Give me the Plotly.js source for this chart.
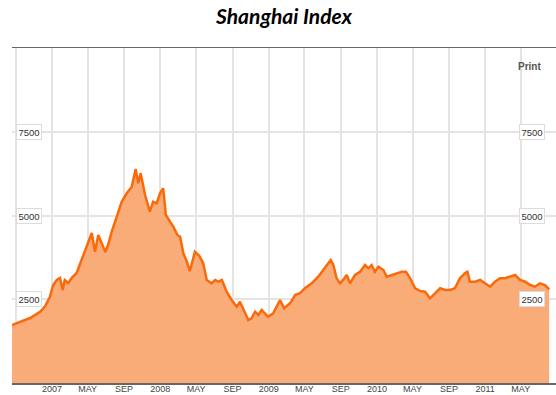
<!DOCTYPE html>
<html>
<head>
<meta charset="utf-8">
<script src="https://cdn.plot.ly/plotly-3.0.1.min.js"></script>
<style>html,body{margin:0;padding:0;background:#fff;}#chart{width:556px;height:395px;}</style>
</head>
<body>
<div id="chart"></div>
<script>
// Shanghai Composite Index
const dates = [
'2006-08-19','2006-09-15','2006-10-19','2006-11-22','2006-12-09','2006-12-25',
'2007-01-05','2007-01-17','2007-01-28','2007-02-06','2007-02-13','2007-02-25',
'2007-03-08','2007-03-25','2007-04-11','2007-04-28','2007-05-15','2007-05-26',
'2007-06-06','2007-06-17','2007-06-30','2007-07-10','2007-07-21','2007-08-06',
'2007-08-24','2007-09-10','2007-09-27','2007-10-10','2007-10-19','2007-10-27',
'2007-11-11','2007-11-27','2007-12-08','2007-12-20','2007-12-31','2008-01-11',
'2008-01-20','2008-02-03','2008-02-14','2008-02-28','2008-03-08','2008-03-19',
'2008-03-30','2008-04-10','2008-04-27','2008-05-11','2008-05-25','2008-06-06',
'2008-06-22','2008-07-04','2008-07-15','2008-07-27','2008-08-12','2008-08-29',
'2008-09-15','2008-09-26','2008-10-13','2008-10-24','2008-11-04','2008-11-16',
'2008-11-27','2008-12-08','2008-12-19','2008-12-30','2009-01-16','2009-01-28',
'2009-02-08','2009-02-22','2009-03-14','2009-03-31','2009-04-16','2009-05-03',
'2009-05-26','2009-06-17','2009-07-04','2009-07-21','2009-07-29','2009-08-07',
'2009-08-18','2009-08-29','2009-09-09','2009-09-21','2009-10-02','2009-10-19',
'2009-11-05','2009-11-22','2009-12-03','2009-12-14','2009-12-25','2010-01-06',
'2010-01-23','2010-02-03','2010-02-20','2010-03-09','2010-03-26','2010-04-09',
'2010-04-23','2010-05-10','2010-05-26','2010-06-12','2010-06-29','2010-07-16',
'2010-08-02','2010-08-19','2010-09-05','2010-09-21','2010-10-08','2010-10-25',
'2010-11-02','2010-11-11','2010-11-28','2010-12-15','2011-01-01','2011-01-18',
'2011-02-03','2011-02-20','2011-03-09','2011-03-26','2011-04-12','2011-04-29',
'2011-05-16','2011-06-02','2011-06-18','2011-07-05','2011-07-22','2011-08-05'
];
const indexValues = [
1731,1830,1940,2128,2298,2576,
2925,3075,3134,2776,3075,2985,
3134,3284,3672,4119,4478,3919,
4418,4179,3910,4149,4507,4925,
5412,5663,5860,6388,5961,6260,
5612,5113,5412,5364,5663,5812,
5015,4815,4666,4418,4367,3872,
3642,3343,3919,3806,3573,3075,
2976,3075,3024,3075,2725,2478,
2278,2427,2081,1881,1931,2128,
2030,2179,2081,1979,2081,2278,
2478,2230,2379,2627,2678,2827,
2976,3173,3373,3573,3672,3522,
3125,2976,3075,3224,2976,3224,
3322,3522,3424,3522,3322,3472,
3373,3173,3224,3274,3322,3322,
3125,2827,2750,2725,2528,2678,
2827,2776,2776,2827,3125,3274,
3322,3024,3024,3075,2976,2875,
3024,3125,3125,3173,3224,3075,
3024,2925,2875,2976,2925,2797
];
const xTickVals = ['2006-09-01','2007-01-01','2007-05-01','2007-09-01','2008-01-01','2008-05-01','2008-09-01',
  '2009-01-01','2009-05-01','2009-09-01','2010-01-01','2010-05-01','2010-09-01','2011-01-01','2011-05-01'];
const xTickText = ['','2007','MAY','SEP','2008','MAY','SEP','2009','MAY','SEP','2010','MAY','SEP','2011','MAY'];
const yTickVals = [2500, 5000, 7500];
const yTickText = ['2500', '5000', '7500'];

const boxFont = {family: 'Liberation Sans, Arial, sans-serif', size: 9.5, color: '#333'};
const annotations = [];
yTickVals.forEach((v, i) => {
  annotations.push({xref: 'paper', yref: 'y', x: 0.007, y: v, xanchor: 'left', yanchor: 'middle',
    text: yTickText[i], showarrow: false, font: boxFont, bgcolor: '#fff', bordercolor: '#dcdcdc', borderwidth: 1, borderpad: 1.5});
  annotations.push({xref: 'paper', yref: 'y', x: 0.932, y: v, xanchor: 'left', yanchor: 'middle',
    text: yTickText[i], showarrow: false, font: boxFont, bgcolor: '#fff', bordercolor: '#dcdcdc', borderwidth: 1, borderpad: 1.5});
});
annotations.push({xref: 'paper', yref: 'paper', x: 0.952, y: 0.946, xanchor: 'center', yanchor: 'middle',
  text: '<b>Print</b>', showarrow: false, font: {family: 'Liberation Sans, Arial, sans-serif', size: 10, color: '#555'}});

const trace = {
  x: dates, y: indexValues, type: 'scatter', mode: 'lines',
  fill: 'tozeroy', fillcolor: '#f9ab78',
  line: {color: '#fa6a0a', width: 2.5, shape: 'linear'},
  hoverinfo: 'x+y'
};

const layout = {
  width: 556, height: 395,
  margin: {l: 12, r: 0, t: 48, b: 12, pad: 0},
  paper_bgcolor: '#fff', plot_bgcolor: '#fff',
  showlegend: false,
  title: {text: 'Shanghai Index', x: 0.5, xref: 'paper', xanchor: 'center', y: 0.958, yref: 'container', yanchor: 'middle',
    font: {family: 'Lato, Open Sans, sans-serif', size: 21, weight: 'bold', style: 'italic', color: '#000'}},
  xaxis: {type: 'date', range: ['2006-08-19', '2011-08-28'],
    tickmode: 'array', tickvals: xTickVals, ticktext: xTickText,
    showgrid: true, gridcolor: '#e4e4e4', gridwidth: 2,
    showline: true, mirror: true, linecolor: '#666', linewidth: 1.5,
    ticks: '', zeroline: false, ticklabelstandoff: -3,
    tickfont: {family: 'Liberation Sans, Arial, sans-serif', size: 9, color: '#444'}},
  yaxis: {range: [0, 10000], tickmode: 'array', tickvals: yTickVals,
    showticklabels: false, showgrid: true, gridcolor: '#e4e4e4', gridwidth: 2,
    zeroline: false, showline: false, ticks: ''},
  annotations: annotations
};

Plotly.newPlot('chart', [trace], layout, {displayModeBar: false, staticPlot: true});
</script>
</body>
</html>
